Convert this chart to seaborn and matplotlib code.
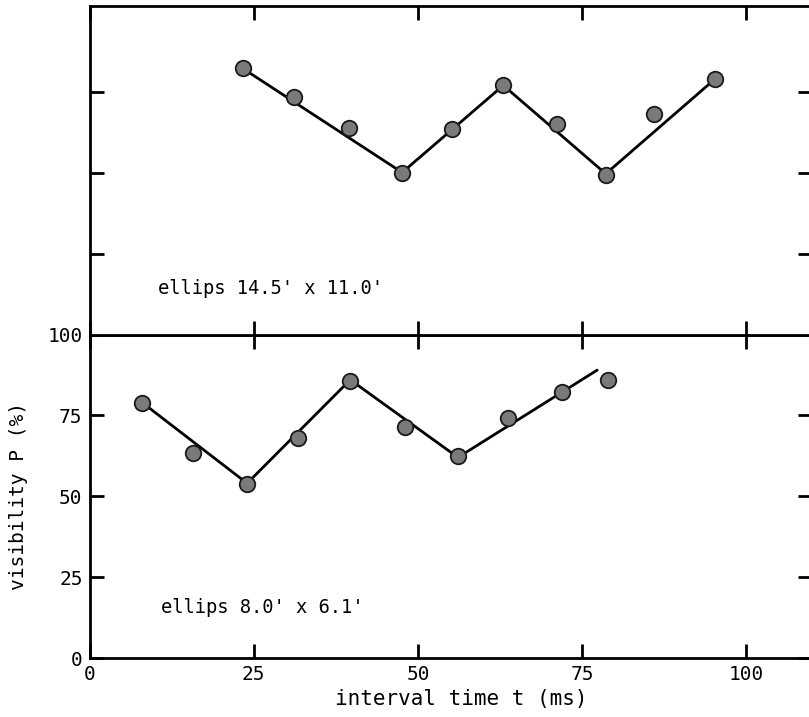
import matplotlib
matplotlib.use("Agg")
import matplotlib.pyplot as plt
import seaborn as sns
import pandas as pd

# ---- data ----
top_t = [23.3, 31.2, 39.5, 47.6, 55.2, 63.0, 71.2, 78.6, 86.0, 95.3]
top_p = [82.5, 73.5, 64.0, 50.2, 63.8, 77.2, 65.1, 49.5, 68.2, 79.3]
top_fit_t = [23.3, 47.6, 63.0, 78.6, 95.3]
top_fit_p = [82.5, 50.2, 77.2, 49.8, 79.3]

bot_t = [8.0, 15.8, 24.0, 31.7, 39.7, 48.1, 56.1, 63.7, 71.9, 79.0]
bot_p = [78.8, 63.3, 53.7, 68.1, 85.7, 71.5, 62.3, 74.1, 82.2, 85.8]
bot_fit_t = [8.0, 24.0, 39.7, 56.1, 77.3]
bot_fit_p = [79.0, 54.0, 86.0, 62.0, 89.0]

top_label = "ellips 14.5' x 11.0'"
bot_label = "ellips 8.0' x 6.1'"
x_ticks = [0, 25, 50, 75, 100]
y_ticks = [0, 25, 50, 75, 100]
top_y_ticks = [25, 50, 75]

sns.set_style("ticks")
plt.rcParams["font.family"] = ["DejaVu Sans Mono", "DejaVu Sans"]
plt.rcParams["text.color"] = "black"
plt.rcParams["axes.labelcolor"] = "black"

fig = plt.figure(figsize=(8.09, 7.17), dpi=100)
W, H = 809, 717
left = 89.5 / W
width = (812 - 89.5) / W
ax_bot = fig.add_axes([left, (H - 658) / H, width, (658 - 334.5) / H])
ax_top = fig.add_axes([left, (H - 334.5) / H, width, (334.5 - 6) / H])

def style_axis(ax):
    ax.set_xlim(0, 110)
    for s in ax.spines.values():
        s.set_visible(True)
        s.set_linewidth(2.0)
        s.set_color("black")
    ax.tick_params(direction="in", length=10, width=2.0, top=True, right=True,
                   bottom=True, left=True, labelsize=14, colors="black", pad=5)
    ax.set_xticks(x_ticks)
    ax.set_facecolor("white")

df_top = pd.DataFrame({"t": top_t, "p": top_p})
df_top_fit = pd.DataFrame({"t": top_fit_t, "p": top_fit_p})
df_bot = pd.DataFrame({"t": bot_t, "p": bot_p})
df_bot_fit = pd.DataFrame({"t": bot_fit_t, "p": bot_fit_p})

for ax, d, f in [(ax_top, df_top, df_top_fit), (ax_bot, df_bot, df_bot_fit)]:
    sns.lineplot(data=f, x="t", y="p", ax=ax, color="black", linewidth=2.0,
                 sort=False, estimator=None)
    sns.scatterplot(data=d, x="t", y="p", ax=ax, s=125, color="#7a7a7a",
                    edgecolor="#1a1a1a", linewidth=1.3, zorder=5)
    style_axis(ax)

ax_top.set_ylim(0, 101.8)
ax_top.set_yticks(top_y_ticks)
ax_top.tick_params(labelbottom=False, labelleft=False)
ax_top.set_xlabel("")
ax_top.set_ylabel("")

ax_bot.set_ylim(0, 100)
ax_bot.set_yticks(y_ticks)
ax_bot.set_xticklabels([str(v) for v in x_ticks])
ax_bot.set_yticklabels([str(v) for v in y_ticks])
ax_bot.set_xlabel("interval time t (ms)", fontsize=15, color="black")
ax_bot.set_ylabel("visibility P (%)", fontsize=14, color="black")
ax_bot.xaxis.set_label_coords(0.515, -0.095)
ax_bot.yaxis.set_label_coords(-0.085, 0.5)

ax_top.text(10.4, 14.4, top_label, fontsize=13.5, va="center", ha="left", color="black")
ax_bot.text(10.9, 15.5, bot_label, fontsize=13.5, va="center", ha="left", color="black")

fig.savefig("out.png", dpi=100, facecolor="white")
